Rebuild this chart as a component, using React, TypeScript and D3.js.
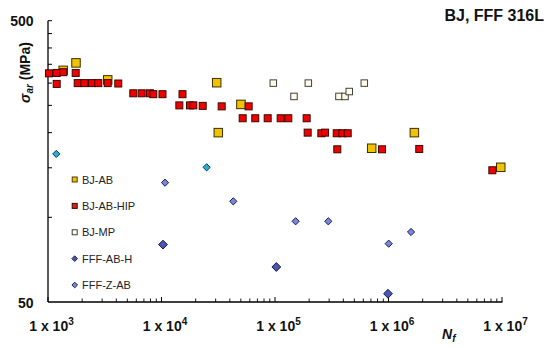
import * as d3 from "d3";

type Pt = [number, number];

// cycles to failure, stress amplitude (MPa)
const bjAB: Pt[] = [
  [1360, 333], [1765, 354], [3357, 308], [30640, 301], [50100, 252],
  [31660, 200], [711000, 176], [1690000, 200], [9750000, 150.6],
];
const bjABHIP: Pt[] = [
  [1020, 325], [1193, 326], [1364, 328], [1754, 326], [1193, 298],
  [1827, 300], [2089, 300], [2442, 300], [2773, 300], [3357, 300], [4160, 299],
  [5643, 276], [6692, 276], [7920, 276], [8471, 274], [10200, 274], [15310, 274],
  [14360, 250], [17830, 250], [19070, 250], [23070, 249], [33900, 248], [58600, 248],
  [51900, 225], [67000, 225], [86200, 225], [112200, 225], [131000, 225], [190000, 225],
  [194000, 200], [256000, 199], [276000, 200], [350000, 199], [392000, 199], [437000, 199],
  [354000, 174.5], [877000, 174.5], [1866000, 175], [8220000, 147],
];
const bjMP: Pt[] = [
  [96600, 300], [196600, 300], [612000, 300], [147000, 269],
  [366000, 269], [414000, 269], [451000, 280],
];
const fffABH: Pt[] = [[10310, 80], [102700, 66.6], [990000, 53.5]];
const fffZAB: Pt[] = [
  [10740, 132.8], [42900, 114], [152000, 96.8], [294800, 96.8],
  [1004000, 80.6], [1580000, 88.7],
];
const fffZABcyan: Pt[] = [[1183, 168], [25000, 150.6]];

const xDecades = [1e3, 1e4, 1e5, 1e6, 1e7];
const xExp = ["3", "4", "5", "6", "7"];
const yTicks = [100, 150, 200, 250, 300, 350, 400, 450, 500];

const font = "'Liberation Sans', Arial, sans-serif";

export default function App() {
  const x = d3.scaleLog().domain([1e3, 1e7]).range([48, 502]);
  const y = d3.scaleLog().domain([50, 500]).range([302, 20.7]);

  const minorX: number[] = [];
  xDecades.slice(0, -1).forEach((d) => {
    for (let k = 2; k <= 9; k++) minorX.push(d * k);
  });

  const square = (pts: Pt[], size: number, fill: string, stroke: string, key: string) =>
    pts.map((p, i) => (
      <rect
        key={key + i}
        x={x(p[0]) - size / 2}
        y={y(p[1]) - size / 2}
        width={size}
        height={size}
        fill={fill}
        stroke={stroke}
        strokeWidth={1}
      />
    ));

  const diamondPath = (cx: number, cy: number, r: number) =>
    `M${cx},${cy - r}L${cx + r},${cy}L${cx},${cy + r}L${cx - r},${cy}Z`;

  const diamond = (pts: Pt[], r: number, fill: string, stroke: string, key: string) =>
    pts.map((p, i) => (
      <path
        key={key + i}
        d={diamondPath(x(p[0]), y(p[1]), r)}
        fill={fill}
        stroke={stroke}
        strokeWidth={1}
      />
    ));

  const legend = [
    { label: "BJ-AB", kind: "sq", fill: "#f2c200", stroke: "#4a4000" },
    { label: "BJ-AB-HIP", kind: "sq", fill: "#e02010", stroke: "#3a0a00" },
    { label: "BJ-MP", kind: "sq", fill: "#fffbe6", stroke: "#404040" },
    { label: "FFF-AB-H", kind: "dm", fill: "#4a56b0", stroke: "#1a1f5a" },
    { label: "FFF-Z-AB", kind: "dm", fill: "#7a86d8", stroke: "#1a1f5a" },
  ];
  const legendY = d3.scaleLinear().domain([0, 4]).range([179.5, 285]);

  return (
    <div style={{ position: "absolute", left: 0, top: 0 }}>
      <svg width={550} height={348} style={{ display: "block", fontFamily: font }}>
        <rect width={550} height={348} fill="#ffffff" />

        {/* title */}
        <text x={544} y={21} textAnchor="end" fontSize={16} fontWeight="bold" fill="#111">
          BJ, FFF 316L
        </text>

        {/* axes */}
        <line x1={48} x2={48} y1={y(500)} y2={302} stroke="#000" strokeWidth={1.3} />
        <line x1={48} x2={502.5} y1={302} y2={302} stroke="#000" strokeWidth={1.3} />
        {yTicks.map((t) => (
          <line key={"yt" + t} x1={48} x2={52} y1={y(t)} y2={y(t)} stroke="#000" strokeWidth={1} />
        ))}
        {xDecades.map((t) => (
          <line key={"xt" + t} x1={x(t)} x2={x(t)} y1={302} y2={297} stroke="#000" strokeWidth={1} />
        ))}
        {minorX.map((t) => (
          <line key={"xm" + t} x1={x(t)} x2={x(t)} y1={302} y2={298.5} stroke="#000" strokeWidth={0.9} />
        ))}

        {/* y labels */}
        <text x={33.5} y={y(500) + 5} textAnchor="end" fontSize={14} fontWeight="bold" fill="#111">
          500
        </text>
        <text x={33.5} y={y(50) + 6} textAnchor="end" fontSize={14} fontWeight="bold" fill="#111">
          50
        </text>

        {/* x labels */}
        {xDecades.map((t, i) => (
          <text key={"xl" + t} x={x(t) + 3.5} y={330.5} textAnchor="middle" fontSize={14} fontWeight="bold" fill="#111">
            1 x 10
            <tspan dy={-6} fontSize={10}>
              {xExp[i]}
            </tspan>
          </text>
        ))}

        {/* axis titles */}
        <text x={442} y={339} fontSize={14} fontWeight="bold" fontStyle="italic" fill="#111">
          N
          <tspan dy={3} fontSize={10}>
            f
          </tspan>
        </text>
        <text
          transform={`translate(30,${72.5}) rotate(-90)`}
          textAnchor="middle"
          fontSize={14}
          fontWeight="bold"
          fill="#111"
        >
          <tspan fontStyle="italic">σ</tspan>
          <tspan fontStyle="italic" fontSize={10} dy={3}>
            ar
          </tspan>
          <tspan dy={-3}> (MPa)</tspan>
        </text>

        {/* data */}
        {square(bjAB, 8.5, "#f2c200", "#3a3000", "ab")}
        {square(bjABHIP, 7, "#f00000", "#3a0a00", "hip")}
        {square(bjMP, 6.5, "#fffbe6", "#404040", "mp")}
        {diamond(fffZABcyan, 3.6, "#20b4d8", "#1a3050", "zc")}
        {diamond(fffZAB, 3.6, "#7a86d8", "#1a1f5a", "z")}
        {diamond(fffABH, 4.4, "#4a56b0", "#141a50", "h")}

        {/* legend */}
        {legend.map((l, i) => {
          const ly = legendY(i);
          return (
            <g key={"lg" + i}>
              {l.kind === "sq" ? (
                <rect x={72.2} y={ly - 2.5} width={5} height={5} fill={l.fill} stroke={l.stroke} strokeWidth={1} />
              ) : (
                <path d={diamondPath(74.7, ly, 2.8)} fill={l.fill} stroke={l.stroke} strokeWidth={1} />
              )}
              <text x={82} y={ly + 4} fontSize={11} fill="#222">
                {l.label}
              </text>
            </g>
          );
        })}
      </svg>
    </div>
  );
}
